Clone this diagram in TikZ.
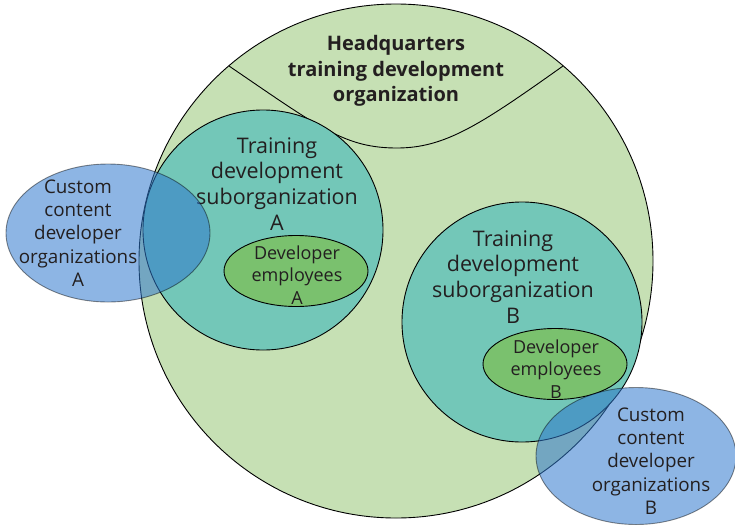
\documentclass[tikz,border=0pt]{standalone}
\usepackage{fontspec}
\setmainfont{Open Sans}
\usetikzlibrary{shapes.geometric}
\definecolor{hqgreen}{RGB}{198,224,180}
\definecolor{subteal}{RGB}{115,199,184}
\definecolor{devgreen}{RGB}{122,193,110}
\definecolor{custblue}{RGB}{47,120,205}
\definecolor{txt}{RGB}{35,31,32}
\begin{document}
\begin{tikzpicture}[x=1pt,y=-1pt,
  outline/.style={draw=black,line width=0.9pt},
  bigcirc/.style={circle,outline,fill=hqgreen,minimum size=514pt,inner sep=0pt},
  subcirc/.style={circle,outline,fill=subteal,minimum size=240pt,inner sep=0pt},
  devell/.style={ellipse,outline,fill=devgreen,minimum width=144pt,minimum height=71pt,inner sep=0pt},
  custell/.style={ellipse,draw=black,draw opacity=0.45,line width=0.9pt,fill=custblue,fill opacity=0.55,minimum width=204pt,minimum height=138pt,inner sep=0pt},
  subtext/.style={align=center,text=txt,font=\fontsize{21.5}{25.8}\selectfont,inner sep=0pt},
  devtext/.style={align=center,text=txt,font=\fontsize{18}{22.5}\selectfont,inner sep=0pt},
  custtext/.style={align=center,text=txt,font=\fontsize{18.8}{23.2}\selectfont,inner sep=0pt},
  hqtext/.style={align=center,text=txt,font=\bfseries\fontsize{20}{25.8}\selectfont,inner sep=0pt}]
\useasboundingbox (0,0) rectangle (735,525);
% big circle
\node[bigcirc] (big) at (396,261) {};
% HQ boundary curve
\coordinate (hqL) at (229,66);
\coordinate (hqB) at (397,148);
\coordinate (hqR) at (563,66);
\draw[outline] (hqL) .. controls (320,128) and (345,148) .. (hqB) .. controls (445,148) and (480,125) .. (hqR);
\node[hqtext] (hq) at (396,71) {Headquarters\\training development\\organization};
% suborganization circles
\node[subcirc] (subA) at (263,230) {};
\node[subcirc] (subB) at (522,322) {};
% developer employee ellipses
\node[devell] (devA) at (296,271) {};
\node[devell] (devB) at (555,364) {};
% texts
\node[subtext] (subAt) at (277,184) {Training\\development\\suborganization\\A};
\node[subtext] (subBt) at (513,277) {Training\\development\\suborganization\\B};
\node[devtext] (devAt) at (297,275) {Developer\\employees\\A};
\node[devtext] (devBt) at (556,369) {Developer\\employees\\B};
% custom content ellipses
\node[custell] (custA) at (108,233) {};
\node[custell, minimum width=200pt,minimum height=137pt] (custB) at (636,456) {};
\node[custtext] (custAt) at (78,233) {Custom\\content\\developer\\organizations\\A};
\node[custtext] (custBt) at (651,461) {Custom\\content\\developer\\organizations\\B};
\end{tikzpicture}
\end{document}
